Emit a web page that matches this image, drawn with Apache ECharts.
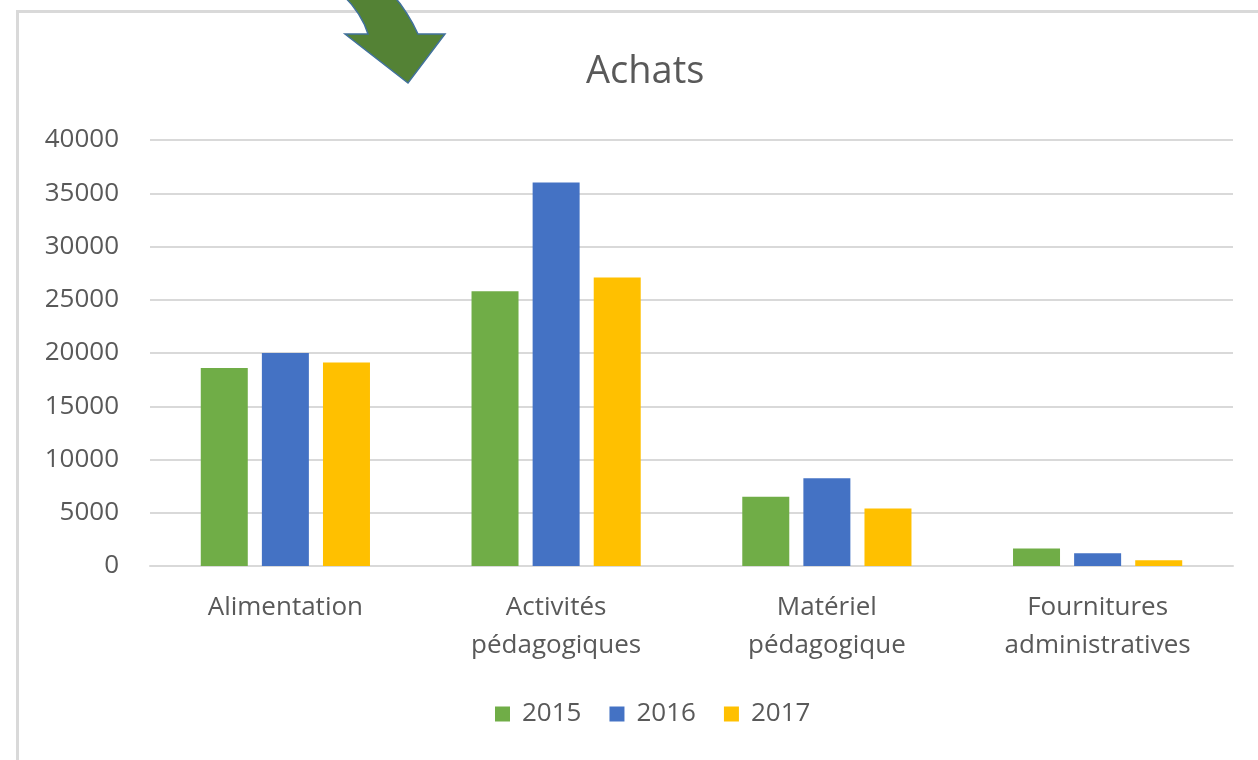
<!DOCTYPE html>
<html>
<head>
<meta charset="utf-8">
<title>Achats</title>
<script src="https://cdn.jsdelivr.net/npm/echarts@6/dist/echarts.min.js"></script>
<style>
  html, body { margin: 0; padding: 0; background: #fff; }
  #main { width: 1258px; height: 760px; }
</style>
</head>
<body>
<div id="main"></div>
<script>
// données
var categories = ['Alimentation', 'Activités\npédagogiques', 'Matériel\npédagogique', 'Fournitures\nadministratives'];
var years = ['2015', '2016', '2017'];
var values2015 = [18600, 25800, 6500, 1650];
var values2016 = [20000, 36000, 8250, 1200];
var values2017 = [19100, 27100, 5400, 550];
var yTicks = {min: 0, max: 40000, interval: 5000};

var colors = ['#70ad47', '#4472c4', '#ffc000'];
var textColor = '#595959';
var fontName = 'Open Sans';

var myChart = echarts.init(document.getElementById('main'));

function barSerie(name, data) {
  return {
    name: name,
    type: 'bar',
    data: data,
    barWidth: 47,
    barGap: '30%'
  };
}

var option = {
  color: colors,
  textStyle: {fontFamily: fontName},
  title: {
    text: 'Achats',
    left: 581,
    top: 48,
    textStyle: {
      color: textColor,
      fontSize: 38,
      fontWeight: 'normal',
      fontFamily: fontName
    }
  },
  legend: {
    data: years,
    bottom: 28,
    left: 490,
    itemWidth: 15,
    itemHeight: 15,
    itemGap: 28,
    icon: 'rect',
    textStyle: {
      color: textColor,
      fontSize: 26,
      fontFamily: fontName,
      padding: [0, 0, 0, 7]
    }
  },
  grid: {
    left: 150,
    right: 25,
    top: 140,
    bottom: 194,
    containLabel: false
  },
  xAxis: {
    type: 'category',
    data: categories,
    axisTick: {show: false},
    axisLine: {lineStyle: {color: '#d9d9d9', width: 2}},
    axisLabel: {
      color: textColor,
      fontSize: 26,
      lineHeight: 38,
      margin: 23,
      interval: 0
    }
  },
  yAxis: {
    type: 'value',
    min: yTicks.min,
    max: yTicks.max,
    interval: yTicks.interval,
    axisLine: {show: false},
    axisTick: {show: false},
    axisLabel: {
      color: textColor,
      fontSize: 26,
      margin: 31,
      formatter: function (v) {
        return String(v);
      }
    },
    splitLine: {lineStyle: {color: '#d9d9d9', width: 2}}
  },
  series: [
    barSerie(years[0], values2015),
    barSerie(years[1], values2016),
    barSerie(years[2], values2017)
  ],
  graphic: [
    // cadre du graphique
    {
      type: 'rect',
      shape: {x: 17.5, y: 11.5, width: 1300, height: 800},
      style: {fill: 'none', stroke: '#d9d9d9', lineWidth: 3},
      z: 100
    },
    // flèche verte décorative
    {
      type: 'polygon',
      shape: {
        points: [[343, -5], [351.7, 4.6], [358.8, 14.3], [364.2, 24.1], [368, 34], [345, 34],
          [408, 83], [445, 34], [418, 34], [412.7, 23.3], [406.8, 13.3], [400.2, 3.8], [393, -5]]
      },
      style: {fill: '#548235', stroke: '#41719c', lineWidth: 1.5},
      z: 101
    }
  ]
};

myChart.setOption(option);
</script>
</body>
</html>
